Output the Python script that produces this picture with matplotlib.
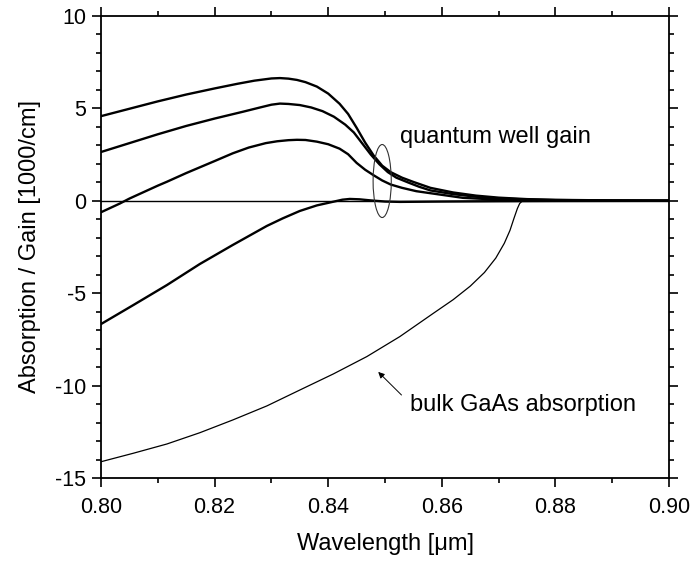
import matplotlib
matplotlib.use('Agg')
import matplotlib.pyplot as plt
from matplotlib.patches import Ellipse
from matplotlib.ticker import MultipleLocator, FormatStrFormatter

plt.rcParams['font.family'] = ['Liberation Sans', 'DejaVu Sans']
plt.rcParams['axes.unicode_minus'] = False

# quantum well gain curves (three carrier densities), wavelength in um, gain in 1000/cm
wl_a = [0.800, 0.805, 0.810, 0.815, 0.820, 0.824, 0.827, 0.830, 0.8315, 0.833,
        0.8345, 0.836, 0.838, 0.840, 0.842, 0.8435, 0.845, 0.8465, 0.848, 0.8495,
        0.851, 0.853, 0.855, 0.858, 0.862, 0.866, 0.870, 0.875, 0.880, 0.890, 0.900]
gain_a = [4.58, 4.98, 5.38, 5.75, 6.08, 6.33, 6.50, 6.62, 6.64, 6.61,
          6.54, 6.42, 6.18, 5.80, 5.25, 4.70, 3.95, 3.15, 2.45, 1.90,
          1.55, 1.25, 1.02, 0.70, 0.45, 0.28, 0.17, 0.09, 0.05, 0.02, 0.01]

wl_b = [0.800, 0.805, 0.810, 0.815, 0.820, 0.825, 0.828, 0.830, 0.8315, 0.833,
        0.835, 0.837, 0.839, 0.841, 0.843, 0.8445, 0.846, 0.8475, 0.849, 0.8505,
        0.852, 0.854, 0.856, 0.858, 0.862, 0.866, 0.870, 0.875, 0.880, 0.890, 0.900]
gain_b = [2.64, 3.12, 3.60, 4.05, 4.45, 4.82, 5.05, 5.20, 5.26, 5.24,
          5.18, 5.05, 4.85, 4.55, 4.12, 3.70, 3.10, 2.50, 1.98, 1.55,
          1.25, 1.00, 0.76, 0.56, 0.36, 0.22, 0.13, 0.07, 0.04, 0.015, 0.005]

wl_c = [0.800, 0.8033, 0.805, 0.810, 0.8116, 0.815, 0.820, 0.8232, 0.826, 0.829,
        0.831, 0.833, 0.8345, 0.836, 0.838, 0.840, 0.842, 0.8435, 0.845, 0.8465,
        0.848, 0.8495, 0.851, 0.853, 0.8555, 0.858, 0.8637, 0.870, 0.876, 0.885, 0.900]
gain_c = [-0.62, -0.15, 0.12, 0.82, 1.03, 1.50, 2.15, 2.57, 2.88, 3.12,
          3.22, 3.28, 3.30, 3.29, 3.20, 3.06, 2.82, 2.52, 2.05, 1.68,
          1.38, 1.10, 0.88, 0.70, 0.52, 0.41, 0.16, 0.06, 0.03, 0.01, 0.0]

# transparency curve
wl_d = [0.800, 0.8057, 0.8116, 0.8174, 0.8232, 0.8292, 0.832, 0.835, 0.838, 0.8409,
        0.8425, 0.8438, 0.8455, 0.8475, 0.850, 0.8526, 0.860, 0.870, 0.880, 0.900]
gain_d = [-6.67, -5.64, -4.56, -3.42, -2.39, -1.36, -0.95, -0.55, -0.25, -0.05,
          0.06, 0.10, 0.08, 0.02, -0.04, -0.06, -0.04, -0.02, -0.01, 0.0]

# bulk GaAs absorption
wl_e = [0.800, 0.8057, 0.8116, 0.8174, 0.8232, 0.8292, 0.835, 0.8409, 0.8468, 0.8526,
        0.8585, 0.8620, 0.8650, 0.8675, 0.8695, 0.8710, 0.8720, 0.8727, 0.8733, 0.8737,
        0.8741, 0.8745, 0.880, 0.900]
gain_e = [-14.12, -13.66, -13.16, -12.55, -11.86, -11.10, -10.24, -9.37, -8.43, -7.35,
          -6.09, -5.35, -4.62, -3.88, -3.10, -2.30, -1.60, -0.95, -0.42, -0.15,
          -0.03, 0.0, 0.0, 0.0]

fig = plt.figure(figsize=(6.91, 5.63), dpi=100)
ax = fig.add_axes([0.1462, 0.151, 0.822, 0.8206])

ax.axhline(0, color='black', lw=1.0, zorder=1)
for wl, g in [(wl_a, gain_a), (wl_b, gain_b), (wl_c, gain_c), (wl_d, gain_d)]:
    ax.plot(wl, g, color='black', lw=1.7, zorder=3, solid_joinstyle='round')
ax.plot(wl_e, gain_e, color='black', lw=0.9, zorder=3, solid_joinstyle='round')

ax.add_patch(Ellipse((0.8495, 1.07), 0.0032, 3.95, fill=False,
                     edgecolor='#333333', lw=0.8, zorder=4))

ax.text(0.8526, 3.47, 'quantum well gain', fontsize=17, va='center', ha='left')
ax.text(0.8544, -11.05, 'bulk GaAs absorption', fontsize=17, va='center', ha='left')
ax.annotate('', xy=(0.8488, -9.26), xytext=(0.8529, -10.51),
            arrowprops=dict(arrowstyle='-|>', color='black', lw=0.7,
                            mutation_scale=9, shrinkA=0, shrinkB=0))

ax.set_xlim(0.80, 0.90)
ax.set_ylim(-15, 10)
ax.xaxis.set_major_locator(MultipleLocator(0.02))
ax.xaxis.set_minor_locator(MultipleLocator(0.01))
ax.xaxis.set_major_formatter(FormatStrFormatter('%.2f'))
ax.yaxis.set_major_locator(MultipleLocator(5))
ax.yaxis.set_minor_locator(MultipleLocator(1))

ax.tick_params(which='both', direction='out', top=True, right=True, width=1.2)
ax.tick_params(which='major', length=6.5, labelsize=15.5)
ax.tick_params(axis='x', which='major', pad=7)
ax.tick_params(axis='y', which='major', pad=4)
ax.tick_params(which='minor', length=3.6)
for s in ax.spines.values():
    s.set_linewidth(1.3)

ax.set_xlabel('Wavelength [\u03bcm]', fontsize=17, labelpad=11)
ax.set_ylabel('Absorption / Gain [1000/cm]', fontsize=17, labelpad=10)

fig.savefig('out.png', dpi=100)
